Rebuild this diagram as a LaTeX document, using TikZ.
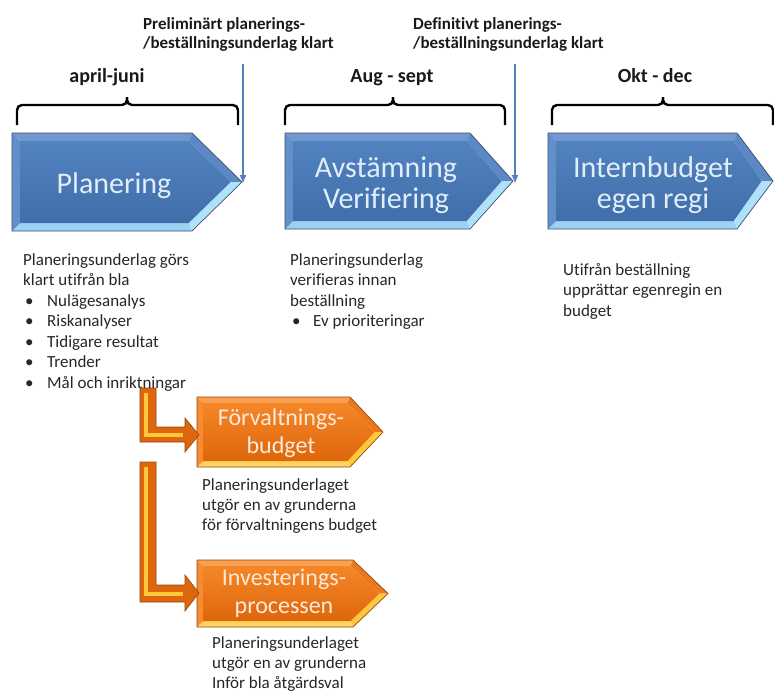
\documentclass[tikz,border=0pt]{standalone}
\usepackage{fontspec}
\setmainfont{Carlito}[Ligatures=NoCommon]
\usetikzlibrary{arrows.meta}
\definecolor{blueTop}{RGB}{110,152,206}
\definecolor{blueUp}{RGB}{92,137,196}
\definecolor{blueLow}{RGB}{175,225,250}
\definecolor{blueBot}{RGB}{155,210,244}
\definecolor{blueLeft}{RGB}{98,143,202}
\definecolor{blueInA}{RGB}{82,130,192}
\definecolor{blueInB}{RGB}{64,110,170}
\definecolor{blueEdge}{RGB}{60,80,110}
\definecolor{bluetxt}{RGB}{225,238,250}
\definecolor{markblue}{RGB}{79,129,189}
\definecolor{orangeTop}{RGB}{250,160,80}
\definecolor{orangeUp}{RGB}{235,120,30}
\definecolor{orangeLow}{RGB}{255,200,60}
\definecolor{orangeBot}{RGB}{255,212,95}
\definecolor{orangeLeft}{RGB}{245,140,50}
\definecolor{orangeInA}{RGB}{245,135,40}
\definecolor{orangeInB}{RGB}{222,102,12}
\definecolor{orangeEdge}{RGB}{150,70,10}
\definecolor{oratxt}{RGB}{253,234,218}
\newcommand{\mychev}[7]{%
  % #1 left, #2 top, #3 corner, #4 tip, #5 bottom, #6 palette, #7 bevel
  \pgfmathsetmacro\cym{(#2+#5)/2}
  \pgfmathsetmacro\cic{#3-0.414*#7}
  \pgfmathsetmacro\cit{#4-1.414*#7}
  \pgfmathsetmacro\cil{#1+#7}
  \pgfmathsetmacro\cut{#2+#7}
  \pgfmathsetmacro\cub{#5-#7}
  \fill[#6Top] (#1,#2) -- (#3,#2) -- (\cic,\cut) -- (\cil,\cut) -- cycle;
  \fill[#6Up] (#3,#2) -- (#4,\cym) -- (\cit,\cym) -- (\cic,\cut) -- cycle;
  \fill[#6Low] (#4,\cym) -- (#3,#5) -- (\cic,\cub) -- (\cit,\cym) -- cycle;
  \fill[#6Bot] (#3,#5) -- (#1,#5) -- (\cil,\cub) -- (\cic,\cub) -- cycle;
  \fill[#6Left] (#1,#5) -- (#1,#2) -- (\cil,\cut) -- (\cil,\cub) -- cycle;
  \shade[top color=#6InA, bottom color=#6InB] (\cil,\cut) -- (\cic,\cut) -- (\cit,\cym) -- (\cic,\cub) -- (\cil,\cub) -- cycle;
  \draw[#6Edge, line width=0.7pt, line join=miter] (#1,#2) -- (#3,#2) -- (#4,\cym) -- (#3,#5) -- (#1,#5) -- cycle;
}
\begin{document}
\begin{tikzpicture}[x=1pt,y=-1pt,
  body/.style={font=\fontsize{17}{20}\selectfont, text=black!85, inner sep=0pt, anchor=base west},
  lab/.style={font=\bfseries\fontsize{17}{20}\selectfont, text=black!90, inner sep=0pt, anchor=base west},
  per/.style={font=\bfseries\fontsize{20}{24}\selectfont, text=black!90, inner sep=0pt, anchor=base},
  btxt/.style={font=\fontsize{30}{30}\selectfont, text=bluetxt, inner sep=0pt, anchor=base},
  otxt/.style={font=\fontsize{24}{24}\selectfont, text=oratxt, inner sep=0pt, anchor=base},
  bracebar/.style={line width=2.4pt, rounded corners=5pt},
  marker/.style={draw=markblue, line width=2pt, -{Latex[length=9pt,width=7pt]}},
  elbow/.style={fill=orangeInB, draw=orangeEdge, line width=0.6pt},
  elbowhi/.style={draw=orangeLow, line width=4pt},
]
\useasboundingbox (0,0) rectangle (774,691);
\begin{scope}
\clip (0,0) rectangle (774,691);
% blue chevrons
\mychev{12}{133}{192}{242}{231}{blue}{8}
\mychev{285}{133}{470}{513}{229}{blue}{8}
\mychev{548}{133}{737}{773}{229}{blue}{8}
% orange chevrons
\mychev{197}{397}{350}{383}{467}{orange}{6}
\mychev{197}{560}{353}{388}{627}{orange}{6}
\end{scope}

% chevron texts
\node[btxt] (plan) at (114,193) {Planering};
\node[btxt] (avst) at (386,177) {Avstämning};
\node[btxt] (veri) at (386,208) {Verifiering};
\node[btxt] (intb) at (653,177) {Internbudget};
\node[btxt] (egen) at (653,208) {egen regi};
\node[otxt] (forv) at (281,425) {Förvaltnings-};
\node[otxt] (budg) at (281,453) {budget};
\node[otxt] (inve) at (284,585) {Investerings-};
\node[otxt] (proc) at (284,613) {processen};

% braces
\draw[bracebar] (17,125) |- (127,105) -- (127,97);
\draw[bracebar] (238,125) |- (127,105) -- (127,97);
\draw[bracebar] (285,125) |- (393,105) -- (393,97);
\draw[bracebar] (505,125) |- (393,105) -- (393,97);
\draw[bracebar] (552,125) |- (663,105) -- (663,97);
\draw[bracebar] (773,125) |- (663,105) -- (663,97);
\node[per] (apr) at (107,82) {april-juni};
\node[per] (aug) at (392,82) {Aug - sept};
\node[per] (okt) at (655,82) {Okt - dec};

% milestone labels and arrows
\node[lab] (pre1) at (143,29) {Preliminärt planerings-};
\node[lab] (pre2) at (143,48) {/beställningsunderlag klart};
\node[lab] (def1) at (413,29) {Definitivt planerings-};
\node[lab] (def2) at (413,48) {/beställningsunderlag klart};
\coordinate (m1s) at (243,64);
\coordinate (m1e) at (243,184);
\coordinate (m2s) at (515,64);
\coordinate (m2e) at (515,184);
\draw[marker] (m1s) -- (m1e);
\draw[marker] (m2s) -- (m2e);

% body texts
\foreach \t [count=\i] in {Planeringsunderlag görs, klart utifrån bla}
  \node[body] (pa\i) at (23,{244.5+20.5*\i}) {\t};
\foreach \t [count=\i] in {Nulägesanalys, Riskanalyser, Tidigare resultat, Trender, Mål och inriktningar}{
  \node[body] (pb\i) at (47,{285.5+20.5*\i}) {\t};
  \node[body] (pd\i) at (25,{285.5+20.5*\i}) {•};
}
\foreach \t [count=\i] in {Planeringsunderlag, verifieras innan, beställning}
  \node[body] (va\i) at (290,{244.5+20.5*\i}) {\t};
\node[body] (vd1) at (292,326.5) {•};
\node[body] (vb1) at (313,326.5) {Ev prioriteringar};
\foreach \t [count=\i] in {Utifrån beställning, upprättar egenregin en, budget}
  \node[body] (ua\i) at (563,{254.5+20.5*\i}) {\t};
\foreach \t [count=\i] in {Planeringsunderlaget, utgör en av grunderna, för förvaltningens budget}
  \node[body] (fa\i) at (202,{470+20*\i}) {\t};
\foreach \t [count=\i] in {Planeringsunderlaget, utgör en av grunderna, Inför bla åtgärdsval}
  \node[body] (ia\i) at (212,{628+20*\i}) {\t};

% orange elbow arrows
\draw[elbow] (140,388) -- (156,388) -- (156,427) -- (185,427) -- (185,418) -- (199,435) -- (185,452) -- (185,442) -- (140,442) -- cycle;
\draw[elbowhi] (146,393) -- (146,435) -- (183,435);
\draw[elbow] (140,462) -- (156,462) -- (156,585) -- (185,585) -- (185,575) -- (199,593) -- (185,611) -- (185,602) -- (140,602) -- cycle;
\draw[elbowhi] (146,467) -- (146,594) -- (183,594);
\end{tikzpicture}
\end{document}
